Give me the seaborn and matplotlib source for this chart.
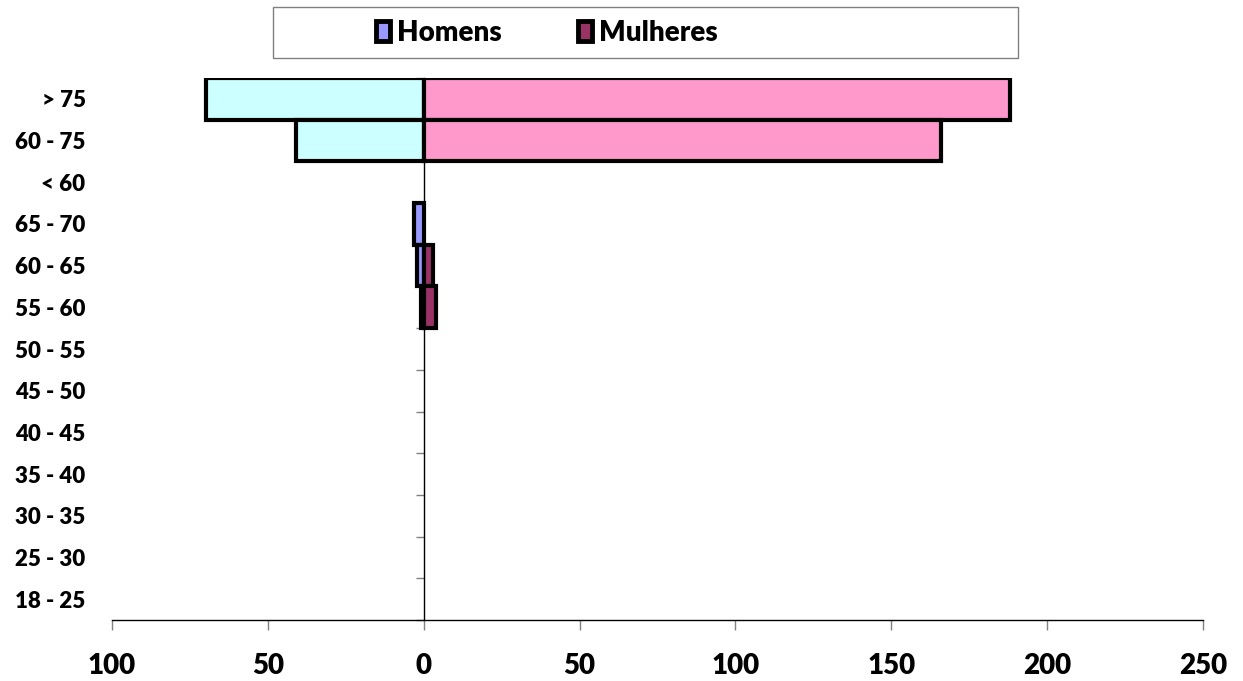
import numpy as np
import pandas as pd
import matplotlib
matplotlib.use("Agg")
import matplotlib.pyplot as plt
from matplotlib.patches import Patch, Rectangle
import seaborn as sns

# Age groups, top to bottom
age_groups = ["> 75", "60 - 75", "< 60", "65 - 70", "60 - 65", "55 - 60", "50 - 55",
              "45 - 50", "40 - 45", "35 - 40", "30 - 35", "25 - 30", "18 - 25"]
homens = [70, 41, 0, 3, 2, 1, 0, 0, 0, 0, 0, 0, 0]
mulheres = [188, 166, 0, 0, 3, 4, 0, 0, 0, 0, 0, 0, 0]
x_ticks = [-100, -50, 0, 50, 100, 150, 200, 250]

# Colours: the two aggregate groups are highlighted
homens_colors = ["#CCFFFF", "#CCFFFF"] + ["#9999FF"] * 11
mulheres_colors = ["#FF99CC", "#FF99CC"] + ["#993366"] * 11

sns.set_style("white")
plt.rcParams["font.family"] = ["Lato", "DejaVu Sans"]
plt.rcParams["text.color"] = "black"
WEIGHT = "heavy"

df = pd.DataFrame({"grupo": age_groups,
                   "Homens": [-v for v in homens],
                   "Mulheres": mulheres})

fig = plt.figure(figsize=(12.43, 6.81), dpi=100)
ax = fig.add_axes([112 / 1243, 1 - 620 / 681, (1203 - 112) / 1243, (620 - 78) / 681])

for col, colors in (("Homens", homens_colors), ("Mulheres", mulheres_colors)):
    sns.barplot(data=df, x=col, y="grupo", hue="grupo", order=age_groups,
                palette=dict(zip(age_groups, colors)), saturation=1, dodge=False,
                legend=False, width=1.0, orient="h", ax=ax,
                edgecolor="black", linewidth=3)

# Empty groups get no outline
for p in ax.patches:
    if p.get_width() == 0:
        p.set_linewidth(0)

ax.set_xlim(-100, 250)
ax.set_ylim(len(age_groups) - 0.5, -0.5)
ax.set_xlabel("")
ax.set_ylabel("")

ax.set_xticks(x_ticks)
ax.set_xticklabels([str(abs(v)) for v in x_ticks], fontsize=20, fontweight=WEIGHT)
ax.tick_params(axis="x", direction="out", length=7, width=1, color="#808080",
               labelcolor="black", pad=17, bottom=True)
ax.tick_params(axis="y", length=0, pad=19, labelsize=16, labelcolor="black")
for lbl in ax.get_yticklabels():
    lbl.set_fontweight(WEIGHT)

for side in ["top", "right", "left"]:
    ax.spines[side].set_visible(False)
ax.spines["bottom"].set_color("black")
ax.spines["bottom"].set_linewidth(1)

# Vertical category axis at zero with ticks between groups
zero_frac = (0 - ax.get_xlim()[0]) / (ax.get_xlim()[1] - ax.get_xlim()[0])
sec = ax.secondary_yaxis(zero_frac)
sec.set_yticks(np.arange(-0.5, len(age_groups), 1.0))
sec.set_yticklabels([])
sec.tick_params(axis="y", direction="out", length=6, width=1, color="#808080")
sec.spines["left"].set_color("black")
sec.spines["left"].set_linewidth(1)

# Legend
fig.patches.append(Rectangle((273 / 1243, 1 - 58 / 681), 745 / 1243, 51 / 681,
                             transform=fig.transFigure, facecolor="white",
                             edgecolor="#808080", linewidth=1, zorder=0))
legend_items = [("Homens", "#9999FF", 376), ("Mulheres", "#993366", 578)]
for label, color, x_px in legend_items:
    leg = fig.legend(handles=[Patch(facecolor=color, edgecolor="black", linewidth=3.5,
                                    label=label)],
                     loc="center left", bbox_to_anchor=(x_px / 1243, 1 - 33 / 681),
                     frameon=False, prop={"size": 20, "weight": WEIGHT},
                     labelcolor="black",
                     handlelength=0.5, handleheight=0.75, handletextpad=0.25,
                     borderpad=0, borderaxespad=0)

fig.savefig("out.png", dpi=100, facecolor="white")
